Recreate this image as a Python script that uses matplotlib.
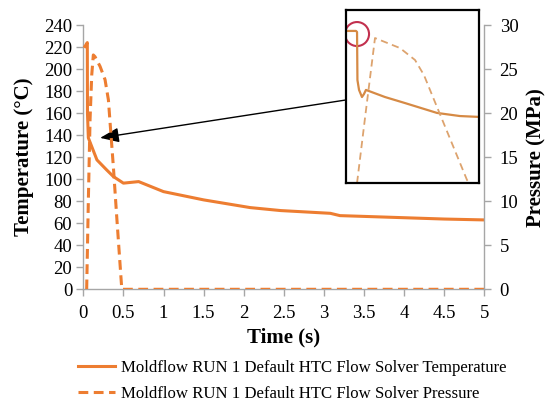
import numpy as np
import matplotlib
matplotlib.use('Agg')
import matplotlib.pyplot as plt
from matplotlib.lines import Line2D
from matplotlib.patches import Ellipse

# Main chart data
temp_time = [0.02, 0.05, 0.052, 0.063, 0.17, 0.29, 0.375, 0.5, 0.69, 1.0, 1.5,
             2.08, 2.46, 3.08, 3.2, 3.5, 3.96, 4.5, 5.0]
temp_vals = [220.5, 224, 160, 137.5, 117.5, 108.5, 102.4, 96.4, 97.8, 88.7, 81.2,
             74.2, 71.5, 69, 66.9, 66.2, 65.1, 63.8, 63]

pres_time = [0.042, 0.063, 0.084, 0.105, 0.125, 0.146, 0.209, 0.271, 0.313, 0.334,
             0.375, 0.417, 0.48, 1.0, 2.0, 3.0, 4.0, 5.0]
pres_vals = [0, 10.1, 19.2, 24.3, 26.6, 26.4, 25.3, 23.8, 21.5, 18.9,
             13.9, 8.2, 0, 0, 0, 0, 0, 0]

x_ticks = [0, 0.5, 1, 1.5, 2, 2.5, 3, 3.5, 4, 4.5, 5]
x_labels = ['0', '0.5', '1', '1.5', '2', '2.5', '3', '3.5', '4', '4.5', '5']
temp_ticks = list(range(0, 241, 20))
pres_ticks = list(range(0, 31, 5))

# Zoomed inset (normalised 0-1 coordinates of the inset picture)
inset_temp_x = [0.0, 0.075, 0.083, 0.086, 0.098, 0.12, 0.135, 0.15, 0.293, 0.444, 0.684, 0.857, 1.0]
inset_temp_y = [0.879, 0.879, 0.873, 0.595, 0.538, 0.497, 0.514, 0.538, 0.497, 0.462, 0.405, 0.387, 0.382]
inset_pres_x = [0.083, 0.15, 0.218, 0.406, 0.519, 0.586, 0.647, 0.91, 0.93]
inset_pres_y = [0.0, 0.42, 0.838, 0.78, 0.711, 0.624, 0.509, 0.017, 0.0]

labels = ['Moldflow RUN 1 Default HTC Flow Solver Temperature',
          'Moldflow RUN 1 Default HTC Flow Solver Pressure']

orange = '#ED7D31'
grey = '#A6A6A6'
serif = 'Liberation Serif'
plt.rcParams['font.family'] = serif

W, H = 546, 401
fig = plt.figure(figsize=(W / 100, H / 100), dpi=100)
ax = fig.add_axes([83.3 / W, 1 - 289.3 / H, 401 / W, 264.3 / H])
ax2 = ax.twinx()

ax.plot(temp_time, temp_vals, color=orange, lw=2.2, solid_joinstyle='round', zorder=3)
ax2.plot(pres_time, pres_vals, color=orange, lw=2.2, linestyle=(0, (3.2, 1.8)))

ax.set_xlim(0, 5)
ax.set_ylim(0, 240)
ax2.set_ylim(0, 30)
ax.set_xticks(x_ticks)
ax.set_xticklabels(x_labels)
ax.set_yticks(temp_ticks)
ax2.set_yticks(pres_ticks)

for a in (ax, ax2):
    a.spines['top'].set_visible(False)
    for s in ('left', 'right', 'bottom'):
        a.spines[s].set_color(grey)
        a.spines[s].set_linewidth(1.0)
    a.tick_params(colors=grey, labelcolor='black', labelsize=13.5, length=5, width=1.0)
ax.spines['right'].set_visible(False)
ax2.spines['left'].set_visible(False)
ax2.spines['bottom'].set_visible(False)
ax.tick_params(axis='y', pad=3)
ax.tick_params(axis='x', pad=6)
ax2.tick_params(axis='y', pad=6)

ax.set_xlabel('Time (s)', fontsize=15, fontweight='bold', labelpad=4)
ax.set_ylabel('Temperature (°C)', fontsize=15, fontweight='bold', labelpad=7)
ax2.set_ylabel('Pressure (MPa)', fontsize=15, fontweight='bold', labelpad=6)

# arrow from the inset to the dip in the temperature curve
ax.annotate('', xy=(0.21, 137.5), xytext=(3.46, 174),
            arrowprops=dict(arrowstyle='-|>,head_length=1.15,head_width=0.45',
                            color='black', lw=1.0, shrinkA=0, shrinkB=0),
            zorder=5)

# inset with zoomed view
ins = fig.add_axes([346 / W, 1 - 183 / H, 133 / W, 173 / H])
ins.set_facecolor('white')
ins.plot(inset_temp_x, inset_temp_y, color='#D68A45', lw=1.6)
ins.plot(inset_pres_x, inset_pres_y, color='#DDA36E', lw=1.3, linestyle=(0, (4, 2.5)))
ins.add_patch(Ellipse((0.083, 0.861), 24 / 133, 24 / 173, fill=False,
                      edgecolor='#C2304E', lw=1.5))
ins.set_xlim(0, 1)
ins.set_ylim(0, 1)
ins.set_xticks([])
ins.set_yticks([])
for s in ins.spines.values():
    s.set_linewidth(1.6)
    s.set_color('black')

handles = [Line2D([], [], color=orange, lw=2.2),
           Line2D([], [], color=orange, lw=2.2, linestyle=(0, (3.2, 1.8)))]
fig.legend(handles, labels, loc='center left', bbox_to_anchor=(78 / W, 1 - 381 / H),
           frameon=False, fontsize=12.1, handlelength=2.2, handletextpad=0.36,
           labelspacing=0.6, borderpad=0, borderaxespad=0)

fig.savefig('out.png', dpi=100)
